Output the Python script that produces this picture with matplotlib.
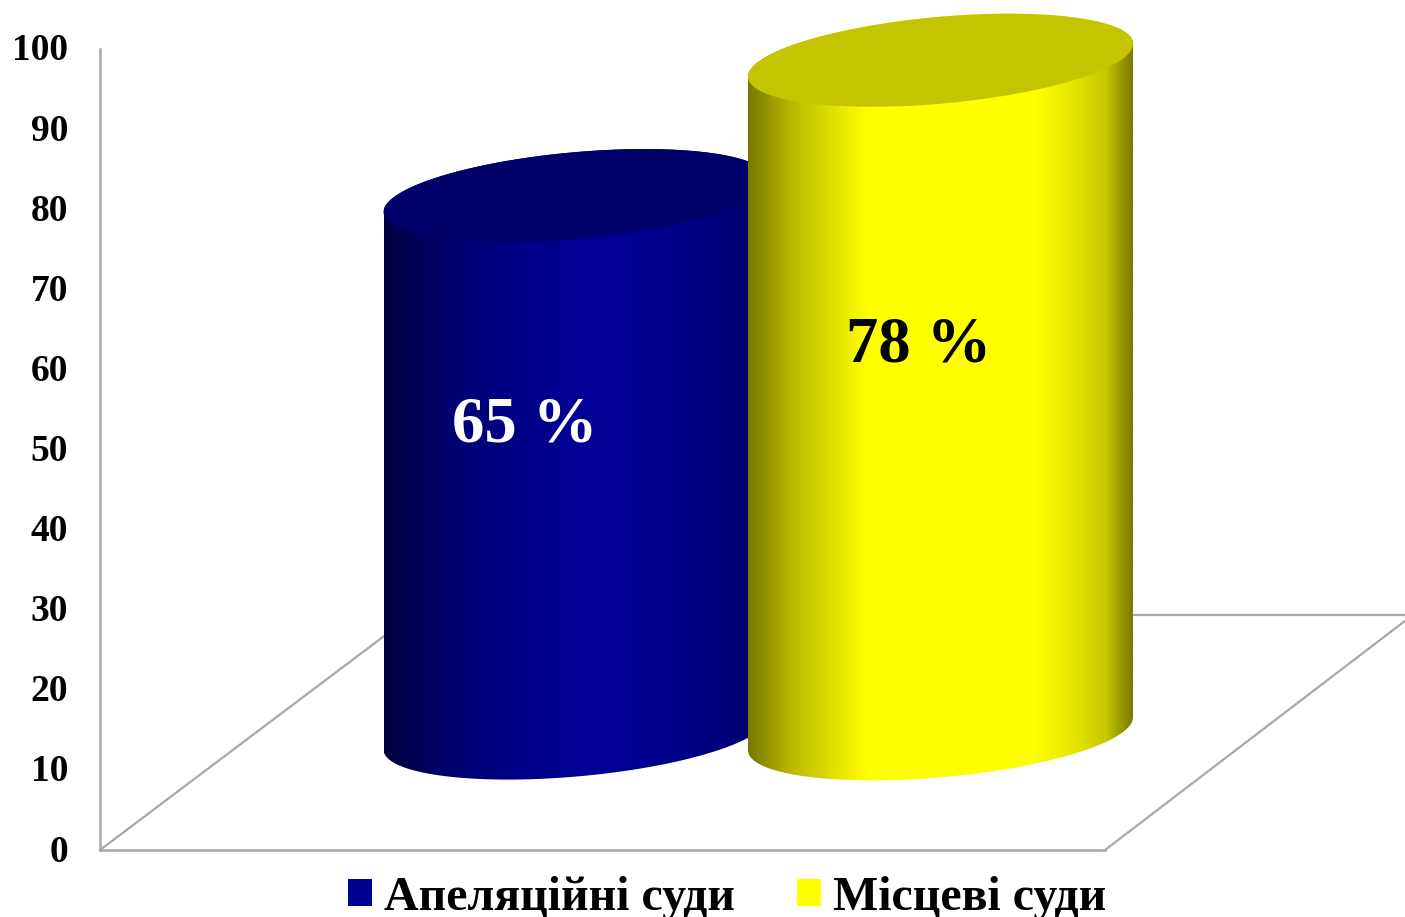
import numpy as np
import matplotlib
matplotlib.use("Agg")
import matplotlib.pyplot as plt
from matplotlib.colors import LinearSegmentedColormap
from matplotlib.patches import Patch, Polygon
from matplotlib.transforms import ScaledTranslation

plt.rcParams["font.family"] = ["Liberation Serif", "DejaVu Serif"]
plt.rcParams["font.weight"] = "bold"

categories = ["Апеляційні суди", "Місцеві суди"]
percent = [65, 78]
# cylinder ends as read on the axis (3D perspective, so not equal to the percent)
base_levels = [14.6, 14.5]
top_levels = [81.7, 98.6]
y_ticks = [0, 10, 20, 30, 40, 50, 60, 70, 80, 90, 100]

PX_PER_UNIT = 8.01
centers = [576, 940.5]
half_width = 192.5
# ellipse shape: tilt and half height, in axis units
tilt = 16.5 / PX_PER_UNIT
half_height = 43.5 / PX_PER_UNIT

shades = [
    [(0, "#000040"), (0.17, "#000070"), (0.35, "#000088"), (0.55, "#000098"), (0.77, "#000088"), (0.95, "#000070"), (1, "#00005a")],
    [(0, "#787800"), (0.11, "#b8b800"), (0.24, "#e8e800"), (0.31, "#ffff00"), (0.74, "#ffff00"), (0.84, "#e8e800"), (0.93, "#c8c800"), (1, "#7a7a00")],
]
lid_colors = ["#00006a", "#c4c400"]
swatch_colors = ["#000090", "#ffff00"]
text_colors = ["white", "black"]
label_levels = [53.0, 63.0]
label_x = [525, 919]
GREY = "#a8a8a8"


def ellipse(cx, level, t):
    return cx + half_width * np.cos(t), level + tilt * np.cos(t) + half_height * np.sin(t)


fig = plt.figure(figsize=(14.05, 9.17), dpi=100)
ax = fig.add_axes([0, 0, 1, 1])
ax.patch.set_alpha(0)

# wall and floor
ax.plot([100, 384], [0, 26.7], color=GREY, lw=1.6, zorder=1)
ax.plot([1105, 1405], [0, 28.6], color=GREY, lw=1.6, zorder=1)
ax.plot([1133, 1405], [29.4, 29.4], color=GREY, lw=1.6, zorder=1)

for i, cx in enumerate(centers):
    low_t = np.linspace(np.pi, 2 * np.pi, 120)
    up_t = np.linspace(0, np.pi, 120)
    bx, by = ellipse(cx, base_levels[i], low_t)
    tx, ty = ellipse(cx, top_levels[i], up_t)
    body = Polygon(np.column_stack([np.r_[bx, tx], np.r_[by, ty]]), closed=True,
                   transform=ax.transData, facecolor="none", edgecolor="none")
    ax.add_patch(body)
    cmap = LinearSegmentedColormap.from_list(f"cyl{i}", shades[i])
    im = ax.imshow(np.linspace(0, 1, 256)[None, :], cmap=cmap, aspect="auto", interpolation="bilinear",
                   extent=[cx - half_width, cx + half_width, 0, 106], zorder=2 + i)
    im.set_clip_path(body)
    # lid
    all_t = np.linspace(0, 2 * np.pi, 240)
    lx, ly = ellipse(cx, top_levels[i], all_t)
    ax.fill(lx, ly, color=lid_colors[i], lw=0, zorder=2 + i)
    ax.text(label_x[i], label_levels[i], f"{percent[i]} %", color=text_colors[i], fontsize=46.5,
            ha="center", va="center", zorder=5)

ax.set_xlim(0, 1405)
ax.set_ylim(-(917 - 850) / PX_PER_UNIT, 850 / PX_PER_UNIT)

ax.spines[["top", "right"]].set_visible(False)
ax.spines["left"].set_position(("data", 100))
ax.spines["left"].set_bounds(0, 100)
ax.spines["bottom"].set_position(("data", 0))
ax.spines["bottom"].set_bounds(100, 1105)
for side in ["left", "bottom"]:
    ax.spines[side].set_color(GREY)
    ax.spines[side].set_linewidth(1.8)
ax.set_xticks([])
ax.set_yticks(y_ticks)
ax.tick_params(axis="y", length=0, pad=23, labelsize=27)
# labels sit a little above their level in the original
lift = ScaledTranslation(0, 2 / 100, fig.dpi_scale_trans)
for label in ax.get_yticklabels():
    label.set_transform(label.get_transform() + lift)

handles = [Patch(facecolor=c, edgecolor="none", label=n) for c, n in zip(swatch_colors, categories)]
ax.legend(handles=handles, loc="lower center", bbox_to_anchor=(0.5176, -0.003), ncol=2, frameon=False,
          fontsize=34.5, handlelength=0.5, handleheight=0.5, handletextpad=0.25, columnspacing=1.3,
          borderpad=0, borderaxespad=0)

fig.savefig("out.png", dpi=100)
